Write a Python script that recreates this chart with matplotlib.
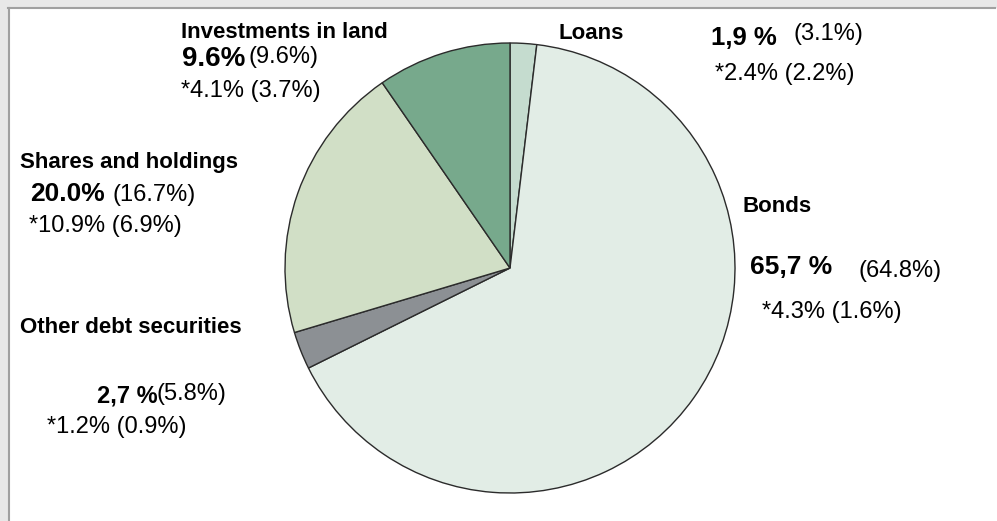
import matplotlib
matplotlib.use('Agg')
import matplotlib.pyplot as plt
from matplotlib.patches import Rectangle

plt.rcParams['font.family'] = ['Liberation Sans', 'DejaVu Sans']

# portfolio shares, clockwise from the top
categories = ['Loans', 'Bonds', 'Other debt securities', 'Shares and holdings', 'Investments in land']
shares = [1.9, 65.7, 2.7, 20.0, 9.6]
colors = ['#c5dccf', '#e2ede6', '#8c9094', '#d1dfc6', '#77a98c']

# label texts for each category
main_text = ['1,9 %', '65,7 %', '2,7 %', '20.0%', '9.6%']
prev_text = ['(3.1%)', '(64.8%)', '(5.8%)', '(16.7%)', '(9.6%)']
return_text = ['*2.4% (2.2%)', '*4.3% (1.6%)', '*1.2% (0.9%)', '*10.9% (6.9%)', '*4.1% (3.7%)']

# label layout in pixels (x, baseline y)
name_pos = [(558, 39), (742, 212), (20, 333), (20, 168), (181, 38)]
main_pos = [(711, 45), (750, 274), (97, 402), (30, 201), (182, 66)]
main_size = [18.5, 19, 17, 19, 20]
prev_pos = [(793, 40), (858, 277), (156, 400), (112, 201), (248, 63)]
ret_pos = [(715, 80), (762, 318), (47, 433), (29, 232), (181, 97)]

W, H = 997, 521
fig = plt.figure(figsize=(W / 100, H / 100), dpi=100)
ax = fig.add_axes([0, 0, 1, 1])

ax.pie(shares, colors=colors, center=(510, 268), radius=225,
       startangle=-90, counterclock=True,
       wedgeprops=dict(edgecolor='#2b2b2b', linewidth=1.0))

ax.set_xlim(0, W)
ax.set_ylim(H, 0)
ax.set_aspect('auto')
ax.axis('off')

# window frame on top and left
ax.add_patch(Rectangle((0, 0), W, 7, color='#e8e8e8', zorder=0))
ax.add_patch(Rectangle((0, 0), 8, H, color='#e8e8e8', zorder=0))
ax.plot([8, W - 2], [7.5, 7.5], color='#a0a0a0', lw=1.5)
ax.plot([8.5, 8.5], [7.5, H], color='#a0a0a0', lw=1.5)

for i, name in enumerate(categories):
    ax.text(*name_pos[i], name, fontsize=16, fontweight='bold', va='baseline', ha='left')
    ax.text(*prev_pos[i], prev_text[i], fontsize=17, va='baseline', ha='left')
    ax.text(*main_pos[i], main_text[i], fontsize=main_size[i], fontweight='bold', va='baseline', ha='left')
    ax.text(*ret_pos[i], return_text[i], fontsize=17, va='baseline', ha='left')

fig.savefig('out.png', dpi=100)
